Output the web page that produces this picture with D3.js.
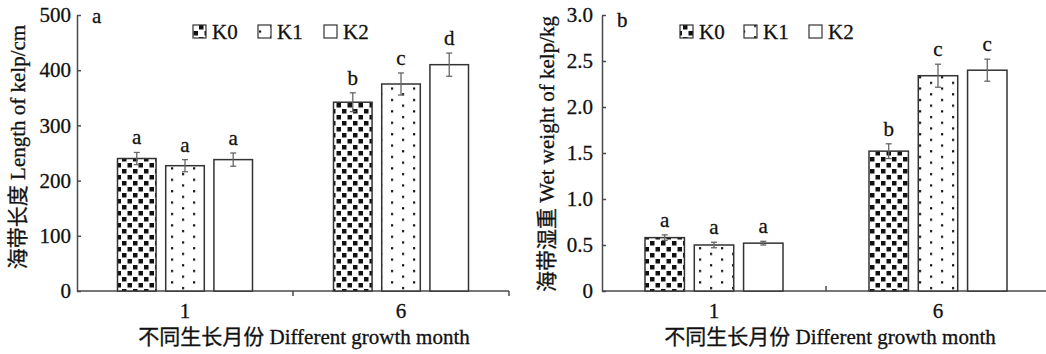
<!DOCTYPE html>
<html>
<head>
<meta charset="utf-8">
<style>
  body { margin: 0; background: #fff; }
  text { font-family: "Liberation Serif", "Times New Roman", "Noto Sans CJK SC", serif; fill: #111; stroke: #111; stroke-width: 0.3px; }
</style>
</head>
<body>
<script src="https://cdn.jsdelivr.net/npm/d3@7/dist/d3.min.js"></script>
<script>

  const months = ["1", "6"]
  const groups = ["K0", "K1", "K2"]

  // panel a: kelp length (cm), rows = month, cols = K0,K1,K2
  const lengthMean = [[240, 227, 238], [342, 375, 410]]
  const lengthErr = [[11, 11, 12], [17, 20, 21]]
  const lengthLetters = [["a", "a", "a"], ["b", "c", "d"]]
  const lengthTicks = [0, 100, 200, 300, 400, 500]

  // panel b: wet weight (kg)
  const weightMean = [[0.58, 0.50, 0.52], [1.52, 2.34, 2.40]]
  const weightErr = [[0.03, 0.03, 0.02], [0.08, 0.125, 0.12]]
  const weightLetters = [["a", "a", "a"], ["b", "c", "c"]]
  const weightTicks = [0, 0.5, 1.0, 1.5, 2.0, 2.5, 3.0]

  const W = 1046, H = 354
  const fontSize = "21px"
  const axisColor = '#4a4a4a',
        barStroke = '#333',
        errColor = '#666'

  const svg = d3.select("body").append("svg")
      .attr("width", W)
      .attr("height", H)

  const defs = svg.append("defs")

  // K0: staggered black squares
  const p0 = defs.append("pattern")
      .attr("id", "patK0")
      .attr("patternUnits", "userSpaceOnUse")
      .attr("width", 11).attr("height", 12)
  p0.append("rect").attr("width", 11).attr("height", 12).style("fill", "#fff")
  p0.append("rect").attr("x", 1).attr("y", 1).attr("width", 4.5).attr("height", 4.5).style("fill", "#111")
  p0.append("rect").attr("x", 6.5).attr("y", 7).attr("width", 4.5).attr("height", 4.5).style("fill", "#111")

  // K1: sparse staggered dots
  const p1 = defs.append("pattern")
      .attr("id", "patK1")
      .attr("patternUnits", "userSpaceOnUse")
      .attr("width", 22).attr("height", 11.4)
  p1.append("rect").attr("width", 22).attr("height", 11.4).style("fill", "#fff")
  p1.append("rect").attr("x", 6).attr("y", 2).attr("width", 2.2).attr("height", 2.2).style("fill", "#111")
  p1.append("rect").attr("x", 17).attr("y", 7.7).attr("width", 2.2).attr("height", 2.2).style("fill", "#111")

  const fills = {K0: "url(#patK0)", K1: "url(#patK1)", K2: "#fff"}

  function drawPanel(opt) {
    const g = svg.append("g")

    const x = d3.scaleBand()
      .domain(months)
      .range(opt.xRange)
    const xInner = d3.scaleBand()
      .domain(groups)
      .range([-opt.innerHalf, opt.innerHalf])
      .paddingInner(0.2)
    const y = d3.scaleLinear()
      .domain(opt.yDomain)
      .range([291, 15])

    // y axis
    const yAxis = d3.axisLeft(y)
      .tickValues(opt.ticks)
      .tickSizeInner(-4)
      .tickSizeOuter(0)
      .tickPadding(opt.tickPad)
      .tickFormat(opt.fmt)
    const gy = g.append("g")
        .attr("transform", `translate(${opt.xRange[0]}, 0)`)
      .call(yAxis)
    gy.attr("font-family", null).attr("font-size", null)
    gy.selectAll("text").style("font-size", fontSize)
    gy.selectAll("line, path").style("stroke", axisColor).style("stroke-width", 1.5)

    // x axis line and boundary ticks
    g.append("line")
        .attr("x1", opt.xRange[0]).attr("x2", opt.xRange[1])
        .attr("y1", y(0)).attr("y2", y(0))
        .style("stroke", axisColor).style("stroke-width", 1.5)
    opt.xTicks.forEach(v => {
      const xx = v === 0 ? x(months[1]) : x(months[1]) + x.bandwidth()
      g.append("line")
          .attr("x1", xx).attr("x2", xx)
          .attr("y1", y(0)).attr("y2", y(0) + opt.xTickDir * 5)
          .style("stroke", axisColor).style("stroke-width", 1.5)
    })

    months.forEach((m, i) => {
      const cx = x(m) + x.bandwidth() / 2
      g.append("text")
          .attr("x", cx)
          .attr("y", 318)
          .style("text-anchor", "middle")
          .style("font-size", fontSize)
          .text(m)

      groups.forEach((k, j) => {
        const bx = cx + xInner(k)
        const v = opt.mean[i][j], e = opt.err[i][j]
        g.append("rect")
            .attr("x", bx)
            .attr("y", y(v))
            .attr("width", xInner.bandwidth())
            .attr("height", y(0) - y(v))
            .style("fill", fills[k])
            .style("stroke", barStroke)
            .style("stroke-width", 1.5)

        const ex = bx + xInner.bandwidth() / 2
        g.append("line")
            .attr("x1", ex).attr("x2", ex)
            .attr("y1", y(v + e)).attr("y2", y(v - e))
            .style("stroke", errColor).style("stroke-width", 1.3)
        ;[v + e, v - e].forEach(c => {
          g.append("line")
              .attr("x1", ex - 3).attr("x2", ex + 3)
              .attr("y1", y(c)).attr("y2", y(c))
              .style("stroke", errColor).style("stroke-width", 1.3)
        })
        g.append("text")
            .attr("x", ex)
            .attr("y", y(v + e) - 8)
            .style("text-anchor", "middle")
            .style("font-size", fontSize)
            .text(opt.letters[i][j])
      })
    })

    // legend
    opt.legendX.forEach((lx, j) => {
      g.append("rect")
          .attr("x", lx).attr("y", opt.legendY - 7)
          .attr("width", 13).attr("height", 13)
          .style("fill", fills[groups[j]])
          .style("stroke", barStroke)
          .style("stroke-width", 1.2)
      g.append("text")
          .attr("x", lx + 19)
          .attr("y", opt.legendY + 7)
          .style("font-size", fontSize)
          .text(groups[j])
    })

    // panel tag
    g.append("text")
        .attr("x", opt.tag[1]).attr("y", opt.tag[2])
        .style("font-size", fontSize)
        .text(opt.tag[0])

    // axis titles
    g.append("text")
        .attr("transform", `translate(${opt.yTitle[0]}, ${opt.yTitle[1]}) rotate(-90)`)
        .style("text-anchor", "middle")
        .style("font-size", fontSize)
        .text(opt.yLabel)
    g.append("text")
        .attr("x", opt.xTitleX)
        .attr("y", 344)
        .style("text-anchor", "middle")
        .style("font-size", fontSize)
        .text("不同生长月份 Different growth month")
  }

  drawPanel({
    xRange: [77, 509],
    innerHalf: 67.5,
    yDomain: [0, 500],
    ticks: lengthTicks,
    fmt: d => d,
    tickPad: 6,
    xTicks: [0, 1],
    xTickDir: 1,
    mean: lengthMean,
    err: lengthErr,
    letters: lengthLetters,
    legendX: [193, 258, 324],
    legendY: 32,
    tag: ["a", 92, 23],
    yTitle: [25, 147],
    yLabel: "海带长度 Length of kelp/cm",
    xTitleX: 304
  })

  drawPanel({
    xRange: [602, 1050],
    innerHalf: 69,
    yDomain: [0, 3],
    ticks: weightTicks,
    fmt: d => d === 0 ? "0" : d3.format(".1f")(d),
    tickPad: 9,
    xTicks: [0],
    xTickDir: -1,
    mean: weightMean,
    err: weightErr,
    letters: weightLetters,
    legendX: [680, 744, 809],
    legendY: 32,
    tag: ["b", 617, 27],
    yTitle: [554, 154],
    yLabel: "海带湿重 Wet weight of kelp/kg",
    xTitleX: 830
  })

</script>
</body>
</html>
